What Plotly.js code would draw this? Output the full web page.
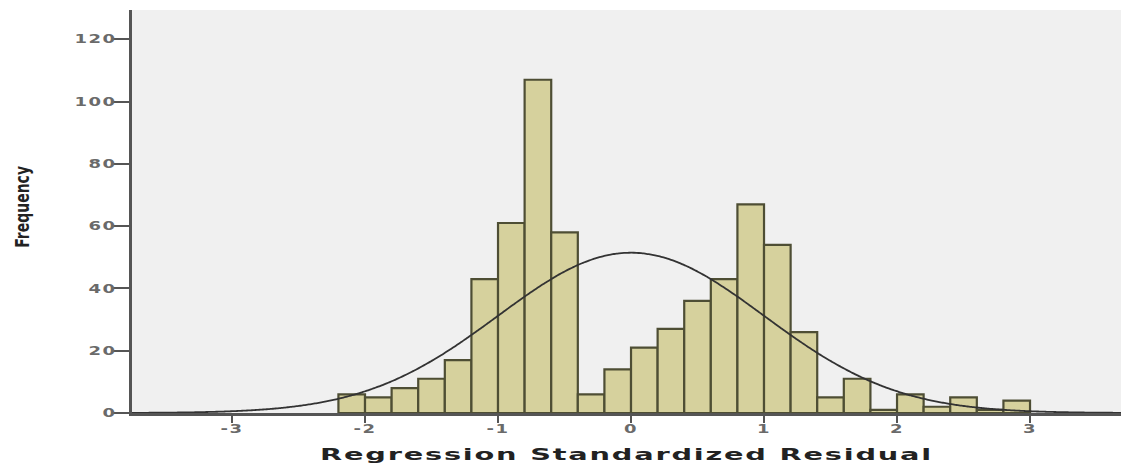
<!DOCTYPE html>
<html>
<head>
<meta charset="utf-8">
<script src="https://cdn.plot.ly/plotly-3.0.1.min.js"></script>
<style>
  html, body { margin: 0; padding: 0; background: #ffffff; }
  #chart { width: 1121px; height: 468px; }
  .xtick text, .ytick text { letter-spacing: 1px; }
  .xtitle { transform: scaleX(1.8); transform-box: fill-box; transform-origin: center; letter-spacing: 1px; }
  .ytitle { transform: rotate(-90deg) scaleY(1.45); transform-box: fill-box; transform-origin: center; }
</style>
</head>
<body>
<div id="chart"></div>
<script>
// Histogram bins (centers of 0.2-wide bins) and frequencies
const binCenters = [-2.1, -1.9, -1.7, -1.5, -1.3, -1.1, -0.9, -0.7, -0.5, -0.3, -0.1,
                    0.1, 0.3, 0.5, 0.7, 0.9, 1.1, 1.3, 1.5, 1.7, 1.9, 2.1, 2.3, 2.5, 2.7, 2.9];
const frequencies = [6, 5, 8, 11, 17, 43, 61, 107, 58, 6, 14,
                     21, 27, 36, 43, 67, 54, 26, 5, 11, 1, 6, 2, 5, 1, 4];
const binWidth = 0.2;

// Normal curve parameters (standardized residuals)
const normalMean = 0;
const normalStdDev = 1.0;

const xTickVals = [-3, -2, -1, 0, 1, 2, 3];
const xTickText = ['-3', '-2', '-1', '0', '1', '2', '3'];
const yTickVals = [0, 20, 40, 60, 80, 100, 120];
const yTickText = ['0', '20', '40', '60', '80', '100', '120'];

const xRange = [-3.752, 3.684];
const yRange = [0, 129.4];

const totalN = frequencies.reduce((a, b) => a + b, 0);
const curveX = [];
const curveY = [];
for (let i = 0; i <= 400; i++) {
  const x = xRange[0] + (xRange[1] - xRange[0]) * i / 400;
  const z = (x - normalMean) / normalStdDev;
  curveX.push(x);
  curveY.push(totalN * binWidth * Math.exp(-0.5 * z * z) / (normalStdDev * Math.sqrt(2 * Math.PI)));
}

const data = [
  {
    type: 'bar',
    x: binCenters,
    y: frequencies,
    width: binWidth,
    marker: { color: '#d6d19d', line: { color: '#4e4e34', width: 2.2 } },
    hoverinfo: 'x+y',
    showlegend: false
  },
  {
    type: 'scatter',
    mode: 'lines',
    x: curveX,
    y: curveY,
    line: { color: '#333333', width: 1.8, shape: 'spline' },
    hoverinfo: 'skip',
    showlegend: false
  }
];

const layout = {
  width: 1121,
  height: 468,
  margin: { l: 132, r: 0, t: 10, b: 55 },
  paper_bgcolor: '#ffffff',
  plot_bgcolor: '#f0f0f0',
  bargap: 0,
  xaxis: {
    range: xRange,
    tickmode: 'array',
    tickvals: xTickVals,
    ticktext: xTickText,
    ticks: 'outside',
    ticklen: 7,
    tickwidth: 2,
    tickcolor: '#555555',
    showline: true,
    linecolor: '#555555',
    linewidth: 3,
    showgrid: false,
    zeroline: false,
    tickfont: { family: 'DejaVu Sans', size: 12, color: '#6a6a6a', weight: 'bold' },
    title: {
      text: 'Regression Standardized Residual',
      font: { family: 'DejaVu Sans', size: 16, color: '#222222', weight: 'bold' },
      standoff: 10
    }
  },
  yaxis: {
    range: yRange,
    tickmode: 'array',
    tickvals: yTickVals,
    ticktext: yTickText,
    ticks: 'outside',
    ticklen: 16,
    tickwidth: 2,
    tickcolor: '#555555',
    showline: true,
    linecolor: '#555555',
    linewidth: 3,
    showgrid: false,
    zeroline: false,
    tickfont: { family: 'DejaVu Sans', size: 12, color: '#6a6a6a', weight: 'bold' },
    title: {
      text: 'Frequency',
      font: { family: 'DejaVu Sans', size: 14, color: '#222222', weight: 'bold' },
      standoff: 57
    }
  }
};

function widen(el, dx, dy) {
  const t = el.getAttribute('transform') || '';
  const ax = parseFloat(el.getAttribute('x')) || 0;
  el.setAttribute('transform',
    t + ' translate(' + (ax + dx) + ',' + dy + ') scale(1.5,1) translate(' + (-ax) + ',0)');
}

Plotly.newPlot('chart', data, layout, { displayModeBar: false, staticPlot: true }).then(function (gd) {
  // widen tick label glyphs like the horizontally stretched original
  gd.querySelectorAll('.ytick text').forEach(function (el) { widen(el, 6, 0); });
  gd.querySelectorAll('.xtick text').forEach(function (el) { widen(el, 0, -4); });
});
</script>
</body>
</html>
